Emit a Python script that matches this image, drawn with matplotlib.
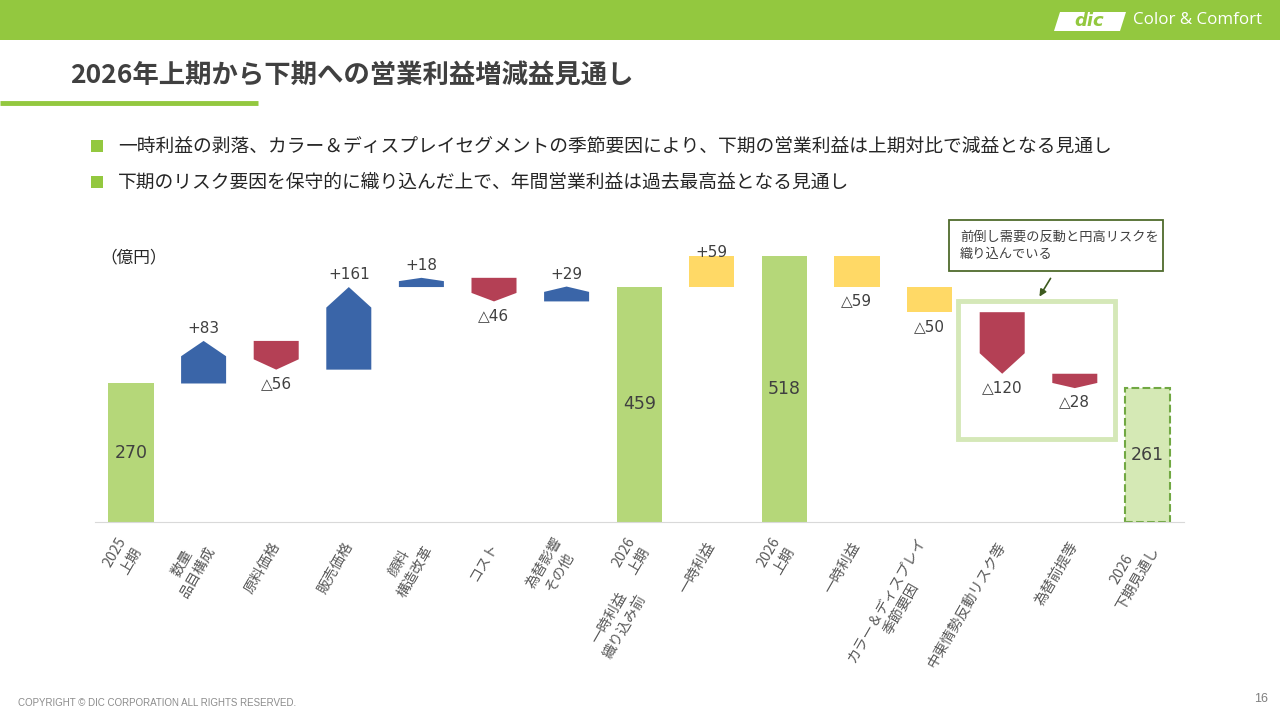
import numpy as np
import matplotlib
matplotlib.use("Agg")
import matplotlib.pyplot as plt
from matplotlib.patches import Polygon, Rectangle

plt.rcParams['font.family'] = ['Noto Sans CJK JP', 'DejaVu Sans']

# waterfall data (億円)
categories = ['2025\n上期', '数量\n品目構成', '原料価格', '販売価格', '顔料\n構造改革', 'コスト',
              '為替影響\nその他', '2026\n上期', '一時利益', '2026\n上期', '一時利益',
              'カラー＆ディスプレイ\n季節要因', '中東情勢反動リスク等', '為替前提等', '2026\n下期見通し']
values = [270, 83, -56, 161, 18, -46, 29, 459, 59, 518, -59, -50, -120, -28, 261]
kinds = ['total', 'delta', 'delta', 'delta', 'delta', 'delta', 'delta', 'total',
         'oneoff', 'total', 'oneoff', 'oneoff', 'delta', 'delta', 'forecast']

title = '2026年上期から下期への営業利益増減益見通し'
bullets = ['一時利益の剥落、カラー＆ディスプレイセグメントの季節要因により、下期の営業利益は上期対比で減益となる見通し',
           '下期のリスク要因を保守的に織り込んだ上で、年間営業利益は過去最高益となる見通し']
callout = '前倒し需要の反動と円高リスクを\n織り込んでいる'

GREEN = '#93c83f'
TOTAL = '#b5d779'
BLUE = '#3a65a8'
RED = '#b44055'
YELLOW = '#ffd966'
TXT = '#404040'
NUM_FONT = ['DejaVu Sans', 'Noto Sans CJK JP']

fig = plt.figure(figsize=(12.8, 7.2), dpi=100)

# decoration layer in pixel coords
deco = fig.add_axes([0, 0, 1, 1])
deco.set_xlim(0, 1280)
deco.set_ylim(720, 0)
deco.axis('off')

deco.add_patch(Rectangle((0, 0), 1280, 40, color=GREEN, lw=0))
deco.add_patch(Polygon([(1060, 12), (1126, 12), (1120, 31), (1054, 31)], closed=True, color='white', lw=0))
deco.text(1089, 21.5, 'dic', color=GREEN, fontsize=13, fontweight='bold', style='italic',
          ha='center', va='center', family='DejaVu Sans')
deco.text(1133, 20, 'Color & Comfort', color='white', fontsize=12.2, ha='left', va='center',
          family='Open Sans')

deco.text(70, 76, title, color=TXT, fontsize=19, fontweight='bold', ha='left', va='center')
deco.plot([0, 258], [103, 103], color=GREEN, lw=3.5, solid_capstyle='butt')

for i, b in enumerate(bullets):
    y = 146 + 36 * i
    deco.add_patch(Rectangle((91, y - 6), 12, 12, color=GREEN, lw=0))
    deco.text(118, y, b, color='#262626', fontsize=13.5, ha='left', va='center')

deco.text(100, 258, '（億円）', color='#262626', fontsize=12, ha='left', va='center')

# highlight box and callout
deco.add_patch(Rectangle((958, 301), 157, 138, fill=False, ec='#d5e8b8', lw=3.5))
deco.add_patch(Rectangle((949, 220), 214, 51, fc='white', ec='#4f6b2c', lw=1.3))
deco.text(960, 231, callout, color=TXT, fontsize=9.5, ha='left', va='top', linespacing=1.35)
deco.annotate('', xy=(1038, 299), xytext=(1052, 276),
              arrowprops=dict(arrowstyle='-|>', color='#3d5a1f', lw=1.2, mutation_scale=10))

deco.text(18, 703, 'COPYRIGHT © DIC CORPORATION ALL RIGHTS RESERVED.', color='#8c8c8c',
          fontsize=7, ha='left', va='center', family='Liberation Sans')
deco.text(1268, 699, '16', color='#7f7f7f', fontsize=9, ha='right', va='center', family='Liberation Sans')

# chart
ax = fig.add_axes([94.7 / 1280, 0.275, 1089 / 1280, 322 / 720])
ax.set_xlim(-0.5, len(values) - 0.5)
ax.set_ylim(0, 627.7)
ax.patch.set_alpha(0)
for s in ['top', 'right', 'left']:
    ax.spines[s].set_visible(False)
ax.spines['bottom'].set_color('#d9d9d9')
ax.set_yticks([])

w = 0.62
px = 627.7 / 322  # data units per pixel
level = 0
for i, (v, k) in enumerate(zip(values, kinds)):
    x0, x1 = i - w / 2, i + w / 2
    if k in ('total', 'forecast'):
        level = v
        if k == 'total':
            ax.bar(i, v, width=w, color=TOTAL, zorder=2)
        else:
            ax.bar(i, v, width=w, color='#d5e9b5', edgecolor='#71a843', ls='--', lw=1.5, zorder=2)
        ax.text(i, v / 2, str(v), color=TXT, fontsize=12.5, ha='center', va='center',
                family=NUM_FONT, zorder=3)
        continue
    lo, hi = min(level, level + v), max(level, level + v)
    if k == 'oneoff':
        ax.bar(i, hi - lo, bottom=lo, width=w, color=YELLOW, zorder=2)
    else:
        p = min(0.36 * (hi - lo), 40)
        if v > 0:
            pts = [(x0, lo), (x1, lo), (x1, hi - p), (i, hi), (x0, hi - p)]
        else:
            pts = [(x0, hi), (x1, hi), (x1, lo + p), (i, lo), (x0, lo + p)]
        ax.add_patch(Polygon(pts, closed=True, color=BLUE if v > 0 else RED, lw=0, zorder=2))
    if v > 0:
        gap = 4 if k == 'oneoff' else 12.5
        ax.text(i, hi + gap * px, f'+{v}', color=TXT, fontsize=11, ha='center', va='center',
                family=NUM_FONT, zorder=3)
    else:
        ax.text(i, lo - 14 * px, f'△{-v}', color=TXT, fontsize=11, ha='center', va='center',
                family=NUM_FONT, zorder=3)
    level += v

ax.set_xticks(range(len(categories)))
ax.set_xticklabels(categories, rotation=60, ha='right', va='center', rotation_mode='anchor',
                   fontsize=10.3, color='#595959', linespacing=1.35, multialignment='center')
ax.tick_params(axis='x', length=0, pad=15)

# extra note under the 2026 上期 label
ax.annotate('一時利益\n織り込み前', xy=(7, 0), xytext=(-22, -100), textcoords='offset pixels',
            rotation=60, ha='center', va='center', fontsize=10.3, color='#595959',
            linespacing=1.35, multialignment='center', annotation_clip=False)

fig.savefig('out.png', dpi=100)
